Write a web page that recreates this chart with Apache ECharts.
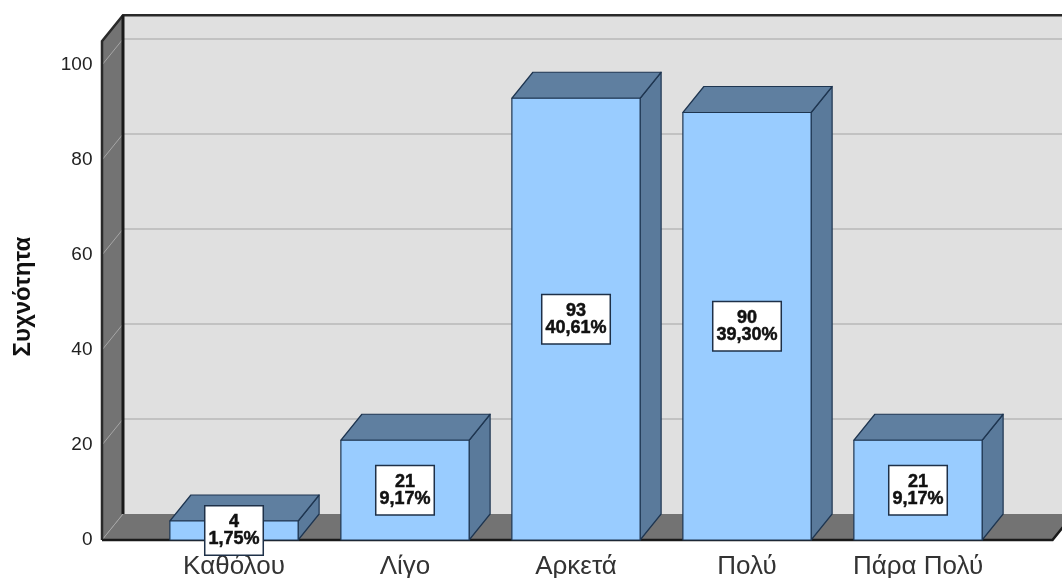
<!DOCTYPE html>
<html>
<head>
<meta charset="utf-8">
<script src="https://cdn.jsdelivr.net/npm/echarts@6/dist/echarts.min.js"></script>
<style>
  html, body { margin: 0; padding: 0; background: #ffffff; }
  #chart { width: 1062px; height: 578px; }
</style>
</head>
<body>
<div id="chart"></div>
<script>
// Survey answers and their frequencies
const categories = ['Καθόλου', 'Λίγο', 'Αρκετά', 'Πολύ', 'Πάρα Πολύ'];
const counts = [4, 21, 93, 90, 21];
const yTicks = [0, 20, 40, 60, 80, 100];
const yMax = 105;

const total = counts.reduce((a, b) => a + b, 0);
const percents = counts.map(c => (c / total * 100).toFixed(2).replace('.', ',') + '%');

// Oblique projection used for the pseudo-3D look
const DX = 21, DY = -26;
// Floor/wall extension beyond the category band
const PAD_LEFT = 46.5, PAD_RIGHT = 49;
const FONT = '"Liberation Sans", Arial, sans-serif';

function renderWalls(params, api) {
  const cs = params.coordSys;
  const x0 = cs.x - PAD_LEFT, x1 = cs.x + cs.width + PAD_RIGHT;
  const yb = api.coord([0, 0])[1];
  const yt = api.coord([0, yMax])[1];
  const bx0 = x0 + DX, bx1 = x1 + DX;
  const ch = [];
  // back wall
  ch.push({ type: 'polygon', shape: { points: [[bx0, yt + DY], [bx1, yt + DY], [bx1, yb + DY], [bx0, yb + DY]] },
            style: { fill: '#e0e0e0' } });
  // left side wall
  ch.push({ type: 'polygon', shape: { points: [[x0, yt], [bx0, yt + DY], [bx0, yb + DY], [x0, yb]] },
            style: { fill: '#737373' } });
  // floor
  ch.push({ type: 'polygon', shape: { points: [[x0, yb], [x1, yb], [bx1, yb + DY], [bx0, yb + DY]] },
            style: { fill: '#737373' } });
  // grid lines on back wall and side wall
  yTicks.forEach(v => {
    const y = api.coord([0, v])[1];
    if (v > 0) {
      ch.push({ type: 'line', shape: { x1: bx0, y1: y + DY, x2: bx1, y2: y + DY },
                style: { stroke: '#b8b8b8', lineWidth: 1.5 } });
    }
    ch.push({ type: 'line', shape: { x1: x0, y1: y, x2: bx0, y2: y + DY },
              style: { stroke: '#a6a6a6', lineWidth: 1 } });
  });
  // edges
  ch.push({ type: 'polyline', shape: { points: [[x0, yb], [x0, yt], [bx0, yt + DY], [bx1, yt + DY]] },
            style: { stroke: '#2a2a2a', lineWidth: 2.5, fill: null } });
  ch.push({ type: 'line', shape: { x1: bx0, y1: yt + DY, x2: bx0, y2: yb + DY },
            style: { stroke: '#1a1a1a', lineWidth: 3 } });
  ch.push({ type: 'polyline', shape: { points: [[x0, yb], [x1, yb], [bx1, yb + DY]] },
            style: { stroke: '#1a1a1a', lineWidth: 2.5, fill: null } });
  return { type: 'group', children: ch };
}

function renderBar(params, api) {
  const idx = params.dataIndex;
  const i = api.value(0), v = api.value(1);
  const base = api.coord([i, 0]);
  const top = api.coord([i, v]);
  const w = api.size([1, 0])[0] * 0.75;
  const xl = base[0] - w / 2, xr = base[0] + w / 2;
  const yb = base[1], yt = top[1];
  const edge = { stroke: '#1e3550', lineWidth: 1.2, lineJoin: 'round' };
  return {
    type: 'group',
    children: [
      { type: 'polygon', shape: { points: [[xr, yt], [xr + DX, yt + DY], [xr + DX, yb + DY], [xr, yb]] },
        style: Object.assign({ fill: '#5a7a9b' }, edge) },
      { type: 'polygon', shape: { points: [[xl, yt], [xl + DX, yt + DY], [xr + DX, yt + DY], [xr, yt]] },
        style: Object.assign({ fill: '#5f7fa0' }, edge) },
      { type: 'rect', shape: { x: xl, y: yt, width: w, height: yb - yt },
        style: Object.assign({ fill: '#99ccff' }, edge) },
      { type: 'text', x: base[0], y: (yb + yt) / 2,
        style: {
          text: counts[idx] + '\n' + percents[idx],
          align: 'center', verticalAlign: 'middle',
          textAlign: 'center', textVerticalAlign: 'middle',
          font: 'bold 18px ' + FONT,
          fill: '#111111',
          stroke: '#111111',
          lineWidth: 0.5,
          lineHeight: 17,
          backgroundColor: '#ffffff',
          borderColor: '#1e3048',
          borderWidth: 1.5,
          padding: [7, 3]
        } }
    ]
  };
}

const chart = echarts.init(document.getElementById('chart'));
chart.setOption({
  animation: false,
  backgroundColor: '#ffffff',
  grid: { left: 148.5, right: 58.5, top: 41.25, bottom: 38, containLabel: false, outerBoundsMode: 'none' },
  xAxis: {
    type: 'category',
    data: categories,
    axisLine: { show: false },
    axisTick: { show: false },
    splitLine: { show: false },
    axisLabel: { fontSize: 26, lineHeight: 24, color: '#333333', margin: 15, fontFamily: FONT }
  },
  yAxis: {
    type: 'value',
    min: 0, max: yMax, interval: 20,
    name: 'Συχνότητα',
    nameLocation: 'middle',
    nameGap: 113,
    nameTextStyle: { fontSize: 24, fontWeight: 'bold', color: '#111111', fontFamily: FONT,
                     padding: [0, 12, 0, 0] },
    axisLine: { show: false },
    axisTick: { show: false },
    splitLine: { show: false },
    axisLabel: {
      margin: 56, fontSize: 19, color: '#222222', fontFamily: FONT,
      formatter: v => (yTicks.indexOf(v) >= 0 ? String(v) : '')
    }
  },
  series: [
    { type: 'custom', silent: true, renderItem: renderWalls, data: [[0, 0]], encode: { x: 0, y: 1 } },
    { type: 'custom', silent: true, renderItem: renderBar,
      data: counts.map((c, i) => [i, c]), encode: { x: 0, y: 1 } }
  ]
});
</script>
</body>
</html>
